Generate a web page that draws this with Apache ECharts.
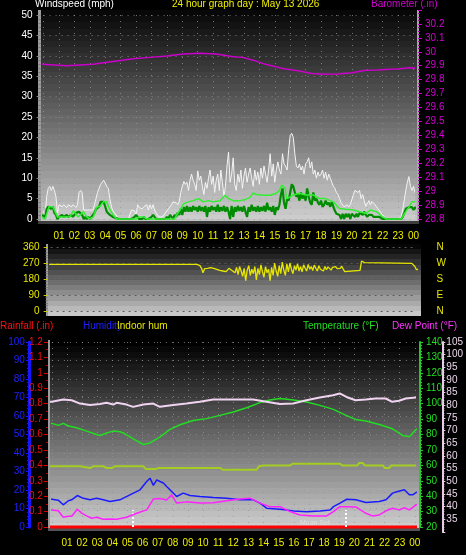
<!DOCTYPE html>
<html><head><meta charset="utf-8">
<script src="https://cdn.jsdelivr.net/npm/echarts@6/dist/echarts.min.js"></script>
<style>html,body{margin:0;padding:0;background:#000;}#c{width:466px;height:555px;}</style>
</head><body><div id="c"></div>
<script>
// ---------- tick labels ----------
const hourLabels = ['01','02','03','04','05','06','07','08','09','10','11','12','13','14','15','16','17','18','19','20','21','22','23','00'];
const dirLabels = {0:'N', 90:'E', 180:'S', 270:'W', 360:'N'};

// ---------- windspeed panel (hours since midnight, mph) ----------
const WIND_T0 = -0.1, WIND_STEP = 0.1;
const gustMph = [
 2.2,2.0,1.0,5.5,7.5,8.0,7.0,8.0,7.0,5.5,1.5,
 3.5,3.5,3.0,3.5,3.5,2.8,3.5,3.5,3.0,3.5,
 3.5,2.8,3.5,6.5,7.0,6.5,2.2,2.2,2.2,2.0,
 2.2,2.2,2.2,3.5,5.0,6.5,7.5,8.5,9.0,9.5,
 9.5,8.0,7.5,5.0,3.0,2.0,1.5,1.0,0.5,0,
 0,0,0,0,0,0,0,2.2,2.2,2.0,
 1.0,3.5,2.8,2.8,2.5,3.0,2.8,3.5,2.2,3.5,
 2.5,3.5,2.2,1.5,1.0,0.5,0.2,0.5,1.0,1.5,
 2.0,2.5,3.0,3.5,4.2,3.8,4.0,3.5,4.3,6.5,
 8.0,9.2,8.5,9.0,7.0,9.5,11.0,9.5,8.5,7.0,
 11.8,9.5,10.5,8.0,6.0,9.0,7.5,10.0,12.0,8.5,
 10.5,6.5,9.5,11.0,7.0,12.0,9.0,5.5,8.0,13.0,
 16.4,9.0,11.0,15.0,8.5,7.0,11.0,9.0,12.0,7.5,
 10.5,12.5,9.0,11.0,12.5,10.0,8.0,12.0,9.5,11.5,
 8.5,12.5,10.0,13.0,11.0,9.0,12.0,16.0,10.5,13.5,
 9.0,12.0,14.0,12.0,11.0,16.0,13.5,13.0,12.0,17.0,
 20.5,21.0,20.0,16.0,13.0,12.5,13.5,12.0,13.0,11.0,
 13.5,14.0,15.0,12.5,14.0,11.0,12.0,10.0,11.5,10.5,
 11.0,12.0,10.0,11.5,9.5,11.0,10.0,9.0,8.0,7.5,
 6.5,6.0,5.0,4.0,3.5,3.0,3.0,3.5,3.0,3.5,
 3.8,6.0,7.0,7.0,6.5,7.0,5.0,6.0,4.5,3.1,
 3.0,4.5,3.5,4.3,4.0,3.5,3.0,2.5,2.0,1.5,
 1.0,0.5,0,0,0,0,0,0,0,0,
 0,0,0.5,2.2,4.7,7.0,9.0,10.4,8.0,7.0,
 8.0,6.5,7.5
];
const windMph = [
 1.0,1.0,0.5,2.5,3.0,3.0,2.5,3.0,1.5,1.0,0,
 0.5,0.5,1.0,0.5,0.5,1.0,0.5,0.5,1.0,0.5,
 1.0,1.5,1.8,1.8,1.8,1.0,0,0.5,0,0.5,
 0,0.5,1.0,1.5,2.4,2.5,3.0,4.2,4.2,4.2,
 3.0,1.8,1.8,1.0,1.0,0.5,0.5,0.2,0,0,
 0,0,0,0,0,0,0,0,0,0.5,
 1.0,0.5,0,0,0,0.5,0,0,0,0,
 0.5,1.0,0.5,0,0,0,0,0,0,0,
 0.5,0,1.0,0.5,0,1.0,0.5,1.5,1.0,2.5,
 1.0,2.9,1.8,3.2,1.8,2.9,1.8,3.2,2.2,2.9,
 1.8,3.2,2.0,2.9,1.8,3.2,0.5,2.9,1.8,3.2,
 2.2,2.9,1.8,3.5,1.8,2.9,2.0,3.2,1.8,2.9,
 1.8,0,3.2,0.5,2.9,1.8,3.2,2.0,2.9,1.8,
 3.2,1.8,0.5,2.9,1.8,3.5,2.0,2.9,1.8,3.2,
 1.8,2.9,2.0,3.2,1.8,4.0,2.2,2.9,1.8,3.2,
 1.0,2.9,2.2,3.5,6.0,7.5,4.0,2.5,5.0,4.5,
 6.5,8.5,8.0,6.5,5.5,6.0,4.5,6.5,5.0,6.0,
 4.5,7.5,5.5,4.0,3.5,6.5,4.5,5.0,4.0,3.5,
 4.5,3.0,3.5,4.5,3.5,4.0,3.0,4.2,3.0,2.0,
 1.3,1.3,1.0,0,1.3,0,1.3,0.5,1.3,0,
 1.3,1.3,0.5,1.3,0.5,1.5,1.5,1.0,1.8,1.0,
 0.5,1.0,1.3,1.0,0.5,0.8,0.5,0.5,0.5,0.3,
 0,0,0,0,0,0,0,0,0,0,
 0,0,0,0.5,1.5,2.5,2.9,2.9,2.5,2.9,
 2.2,2.9,2.5
];
const avgWindMph = [[-0.15,0.5],[0.1,0],[0.35,3],[0.6,3],[0.75,1.8],[0.9,0.5],[1.7,0.5],[1.93,2],[2.25,0.5],[2.58,1.8],[2.8,0.5],[3.0,0],[3.23,0.5],[3.44,2.9],[3.66,3.1],[3.88,4.2],[4.09,4.2],[4.31,2.2],[4.52,1.0],[4.74,0],[6.0,0],[6.2,0.5],[6.5,0.5],[6.7,0],[8.5,0],[8.64,1],[8.85,2.2],[9.07,3.7],[9.39,4.2],[9.72,4.5],[10.04,5],[10.37,4.2],[10.69,4.5],[11.0,4.2],[11.45,4.5],[11.77,5.8],[12.0,5],[12.3,4.5],[12.75,4.5],[13.1,4.8],[13.4,5.3],[13.6,6.4],[13.8,6.0],[14.26,5.8],[14.7,5.8],[15.1,6.3],[15.3,7.0],[15.45,8.3],[15.67,7.5],[15.77,5.0],[16.0,5.4],[16.2,5.9],[16.6,6.3],[17.0,5.9],[17.5,5.9],[17.9,5.0],[18.3,5.0],[18.8,4.2],[19.2,2.6],[19.6,2.4],[20.1,2.2],[20.5,1.8],[20.9,1.4],[21.2,2.2],[21.6,1.8],[22.0,0.5],[22.24,0],[23.2,0],[23.5,1.8],[23.7,2.9],[23.9,4.2],[24.25,4.2]];
const baroIn = [[-0.1,29.91],[0,29.91],[1.5,29.90],[3.2,29.91],[4.74,29.934],[5.8,29.95],[6.9,29.96],[8,29.97],[9.05,29.985],[10.15,29.99],[11.2,29.985],[12.3,29.965],[12.9,29.96],[13.6,29.94],[14.4,29.91],[15.5,29.88],[16.6,29.862],[17.4,29.845],[18.3,29.838],[19.1,29.84],[20,29.85],[20.9,29.868],[21.7,29.87],[22.4,29.875],[23,29.876],[23.7,29.886],[24.2,29.882]];

// ---------- wind direction (degrees) ----------
const dirHead = [[-0.1,262],[9.6,262]];
const DIR_NOISE_T0 = 9.7, DIR_STEP = 0.1;
const dirNoise = [258,255,240,215,238,245,240,246,244,238,240,236,234,230,228,227,225,222,221,230,240,235,228,
 231,215,245,205,250,225,195,240,170,230,255,200,235,210,250,175,240,205,260,220,190,250,215,235,170,245,200,270,225,195,
 255,210,275,230,200,265,220,270,235,210,255,230,265,225,250,220,260,240,225,262,235,250,228,258,240,225,255,235,245,225,
 250,232,248,238,230,245,235,250,238,245,240,252,235,222];
const dirTail = [[19.4,228],[20.3,228],[20.4,281],[20.5,278],[20.6,272],[20.7,268],[23.7,268],[23.8,262],[23.9,250],[24.0,232],[24.1,240],[24.2,238]];

// ---------- lower panel ----------
const rainIn = [[-0.2,0],[24.3,0]];
const sunTimes = [5.36, 19.45];
const humidityPct = [[-0.15,15],[-0.01,15.0],[0.42,14.5],[0.75,12.0],[1.09,14.2],[1.31,14.7],[1.68,17.0],[2.08,15.5],[2.52,14.7],[2.96,15.5],[3.4,14.7],[3.84,13.8],[4.5,14.7],[5.16,17.4],[5.83,20.1],[6.27,24.6],[6.49,26.4],[6.71,22.5],[6.93,25.5],[7.15,24.6],[7.37,23.8],[7.59,21.9],[7.92,19.2],[8.25,16.5],[8.69,18.3],[9.13,17.0],[9.79,16.5],[10.68,15.9],[11.56,15.5],[12.44,14.7],[13.32,14.7],[13.76,12.9],[14.2,10.2],[15.09,9.6],[15.53,9.2],[15.97,8.7],[16.85,8.2],[17.73,8.7],[18.4,9.2],[18.62,11.0],[19.05,12.9],[19.5,15.0],[20.1,14.7],[20.77,13.2],[21.65,13.8],[22.1,14.7],[22.53,18.3],[22.87,19.2],[23.31,20.1],[23.64,17.4],[23.86,17.4],[24.08,18.6],[24.25,19]];
const indoorHumPct = [[-0.15,32.8],[1.86,32.8],[1.97,31.9],[2.52,31.9],[2.74,32.8],[3.4,32.8],[3.62,31.9],[3.95,31.9],[4.17,32.8],[6.05,32.8],[6.2,31.4],[6.9,31.4],[7.05,31.9],[11.12,31.9],[11.3,31.0],[13.54,31.0],[13.7,32.8],[14.0,33.2],[15.75,33.2],[15.9,34.2],[19.05,34.2],[19.2,33.3],[20.2,33.3],[20.33,34.6],[20.55,34.6],[20.7,33.3],[21.9,33.3],[22.0,31.9],[22.3,31.9],[22.45,33.3],[24.25,33.3]];
const temperatureF = [[-0.15,87.5],[-0.01,87.2],[0.42,85.9],[0.75,87.2],[1.09,85.5],[1.64,84.4],[2.3,82.2],[2.96,80.0],[3.18,79.4],[3.62,81],[4.06,82.2],[4.5,81.8],[4.72,81],[5.38,77.2],[6.05,73.5],[6.49,74.5],[7.15,78.5],[7.81,83.3],[8.47,86.3],[9.35,89.1],[10.23,90.3],[11.12,92.4],[12.0,94.6],[12.88,97.4],[13.76,100.7],[14.42,102.4],[15.09,103.3],[15.97,102.4],[16.85,101.1],[17.73,98.9],[18.62,96.3],[19.45,92.4],[20.16,89.5],[20.77,88.7],[21.65,86.5],[22.53,83.7],[23.2,79.4],[23.64,78.5],[24.08,83.3],[24.25,84]];
const dewPointF = [[-0.15,31],[-0.01,31.1],[0.42,30.5],[0.75,26.3],[1.09,27],[1.31,27],[1.68,31.5],[1.97,29],[2.3,27.2],[2.63,25.7],[2.96,26.3],[3.4,25.0],[3.84,25.2],[4.28,25.0],[4.94,26.3],[5.61,28.9],[6.27,31.1],[6.71,38.1],[7.15,38.5],[7.59,37.5],[7.92,40.9],[8.25,35.5],[8.91,36.3],[9.79,35.5],[10.68,35.8],[11.56,37.0],[12.44,38.1],[13.1,38.7],[13.76,35.5],[14.42,33.2],[15.09,33.2],[15.75,30.0],[16.41,27.8],[17.29,27.2],[18.17,27.2],[18.62,30.0],[19.05,33.2],[19.5,33.2],[20.1,33.0],[20.77,28.9],[21.2,27.2],[21.65,27.8],[22.1,30.5],[22.53,32.2],[22.98,31.1],[23.31,32.5],[23.64,31.1],[24.08,34.4],[24.25,34.5]];
const indoorTempF = [[-0.15,81.4],[-0.01,81.4],[0.75,82.3],[1.31,82.0],[1.86,80.7],[2.52,80.1],[3.18,80.5],[3.62,81],[4.06,80.3],[4.28,81],[4.94,80.3],[5.38,79.4],[6.05,80.3],[6.71,80.7],[7.15,79.4],[8.03,80.1],[8.91,80.7],[9.79,81.4],[10.68,82.3],[13.32,82.3],[14.2,81.4],[15.09,80.5],[15.97,80.7],[16.85,82.0],[17.73,83.1],[18.62,84.0],[19.05,84.7],[19.5,83.3],[20.1,82.0],[20.77,82.3],[21.43,82.7],[22.1,82.7],[22.53,81.4],[22.98,81.8],[23.42,82.7],[24.08,83.1],[24.25,83.1]];

// ---------- build ----------
const byStep = (arr, t0, st) => arr.map((v, i) => [+(t0 + i * st).toFixed(2), v]);
const gustData = byStep(gustMph, WIND_T0, WIND_STEP);
const windData = byStep(windMph, WIND_T0, WIND_STEP);
const dirData = dirHead.concat(byStep(dirNoise, DIR_NOISE_T0, DIR_STEP), dirTail);

const FONT = 'Liberation Sans';
function bandFill(n, g0, g1) {
  const stops = [];
  for (let i = 0; i < n; i++) {
    const g = Math.round(g0 + (g1 - g0) * i / (n - 1));
    const c = 'rgb(' + g + ',' + g + ',' + g + ')';
    stops.push({offset: i / n, color: c}, {offset: (i + 1) / n, color: c});
  }
  return new echarts.graphic.LinearGradient(0, 0, 0, 1, stops);
}
const hourFmt = v => (v >= 1 && v <= 24) ? hourLabels[v - 1] : '';
const dots = {show: true, lineStyle: {color: 'rgba(150,150,150,0.75)', width: 1, type: [1, 5]}};
const lbl = (color, margin, extra) => Object.assign({color: color, fontFamily: FONT, fontSize: 10, margin: margin}, extra || {});
const noZero = (show, style) => ({show: show, onZero: false, lineStyle: style || {}});

function hourAxis(grid, showLabels, margin, split) {
  return {type: 'value', gridIndex: grid, min: 0, max: 24, interval: 1,
    axisLine: noZero(false), axisTick: {show: false},
    axisLabel: showLabels ? lbl('#f0f000', margin, {formatter: hourFmt, showMinLabel: false}) : {show: false},
    splitLine: split ? dots : {show: false}};
}
function lineSeries(name, x, y, data, color, width, extra) {
  return Object.assign({name: name, type: 'line', xAxisIndex: x, yAxisIndex: y, data: data,
    showSymbol: false, symbol: 'none', clip: false, animation: false,
    lineStyle: {color: color, width: width}, itemStyle: {color: color}}, extra || {});
}

const option = {
  backgroundColor: '#000',
  animation: false,
  grid: [
    {left: 43.6, top: 15, width: 369.9, height: 204},   // wind
    {left: 43.6, top: 10, width: 369.9, height: 209},   // barometer
    {left: 50.6, top: 247, width: 365.8, height: 64},   // direction
    {left: 51.9, top: 342, width: 362.9, height: 185},  // rain/hum/temp
    {left: 51.9, top: 342, width: 362.9, height: 190}   // indoor temp
  ],
  xAxis: [
    hourAxis(0, true, 12, true),
    hourAxis(1, false, 0, false),
    hourAxis(2, false, 0, false),
    hourAxis(3, true, 11, true),
    hourAxis(4, false, 0, false)
  ],
  yAxis: [
    {type: 'value', gridIndex: 0, min: 0, max: 50, interval: 5, position: 'left', offset: 3,
      axisLine: noZero(false), axisTick: {show: true, length: 4, lineStyle: {color: '#8a8a8a'}},
      minorTick: {show: true, splitNumber: 5, length: 2, lineStyle: {color: '#777'}},
      axisLabel: lbl('#ffffff', 8), splitLine: dots},
    {type: 'value', gridIndex: 1, min: 28.8, max: 30.3, interval: 0.1, position: 'right', offset: 4.5,
      axisLine: noZero(false), axisTick: {show: true, length: 4, lineStyle: {color: '#cc00cc'}},
      minorTick: {show: true, splitNumber: 4, length: 2, lineStyle: {color: '#aa00aa'}},
      axisLabel: lbl('#d400d4', 7, {showMaxLabel: false}), splitLine: {show: false}},
    {type: 'value', gridIndex: 2, min: 0, max: 360, interval: 90, position: 'left', offset: 3,
      axisLine: noZero(false), axisTick: {show: true, length: 4, lineStyle: {color: '#c8c800'}},
      minorTick: {show: true, splitNumber: 6, length: 2, lineStyle: {color: '#777'}},
      axisLabel: lbl('#e6e600', 8),
      splitLine: {show: true, lineStyle: {color: '#5a5a5a', width: 1, type: [2, 4]}}},
    {type: 'value', gridIndex: 2, min: 0, max: 360, interval: 90, position: 'right', offset: 0,
      axisLine: noZero(false), axisTick: {show: false},
      axisLabel: lbl('#e6e600', 20, {formatter: v => dirLabels[v] || ''}), splitLine: {show: false}},
    {type: 'value', gridIndex: 3, min: 0, max: 1.2, interval: 0.1, position: 'left', offset: 4,
      axisLine: noZero(false), axisTick: {show: true, length: 4, lineStyle: {color: '#e00000'}},
      minorTick: {show: true, splitNumber: 2, length: 2, lineStyle: {color: '#c00000'}},
      axisLabel: lbl('#ee1111', 5), splitLine: {show: false}},
    {type: 'value', gridIndex: 3, min: 0, max: 100, interval: 10, position: 'left', offset: 23,
      axisLine: noZero(true, {color: '#1515ff', width: 3}),
      axisTick: {show: true, length: 3, lineStyle: {color: '#1515ff'}},
      minorTick: {show: true, splitNumber: 5, length: 2, lineStyle: {color: '#1515ff'}},
      axisLabel: lbl('#2020ff', 4), splitLine: dots},
    {type: 'value', gridIndex: 3, min: 20, max: 140, interval: 10, position: 'right', offset: 5.2,
      axisLine: noZero(true, {color: '#22cc22', width: 2}),
      axisTick: {show: true, length: 3, lineStyle: {color: '#22cc22'}},
      minorTick: {show: true, splitNumber: 5, length: 2, lineStyle: {color: '#22cc22'}},
      axisLabel: lbl('#22dd22', 6), splitLine: {show: false}},
    {type: 'value', gridIndex: 4, min: 30, max: 105, interval: 5, position: 'right', offset: 27.9,
      axisLine: noZero(true, {color: '#e8cce8', width: 2}),
      axisTick: {show: true, length: 3, lineStyle: {color: '#e8cce8'}},
      minorTick: {show: true, splitNumber: 5, length: 2, lineStyle: {color: '#e8cce8'}},
      axisLabel: lbl('#e8d4e8', 4, {showMinLabel: false}), splitLine: {show: false}}
  ],
  graphic: [
    {type: 'rect', z: -10, silent: true, shape: {x: 41, y: 10, width: 377, height: 211}, style: {fill: bandFill(34, 8, 196)}},
    {type: 'rect', z: -10, silent: true, shape: {x: 48, y: 244, width: 373, height: 72}, style: {fill: bandFill(14, 6, 200)}},
    {type: 'rect', z: -10, silent: true, shape: {x: 49, y: 340, width: 370, height: 189}, style: {fill: bandFill(32, 0, 204)}},
    {type: 'rect', z: -9, silent: true, shape: {x: 38, y: 10, width: 3, height: 213}, style: {fill: '#9c9c9c'}},
    {type: 'rect', z: -9, silent: true, shape: {x: 417, y: 10, width: 2, height: 213}, style: {fill: '#a8a8a8'}},
    {type: 'rect', z: -9, silent: true, shape: {x: 38, y: 221, width: 381, height: 3}, style: {fill: '#3c3c3c'}},
    {type: 'rect', z: -9, silent: true, shape: {x: 46, y: 244, width: 2, height: 72}, style: {fill: '#9c9c9c'}},
    {type: 'rect', z: -9, silent: true, shape: {x: 48, y: 340, width: 2, height: 190}, style: {fill: '#9c9c9c'}},
    {type: 'rect', z: -9, silent: true, shape: {x: 48, y: 528, width: 372, height: 3}, style: {fill: '#555'}},
    {type: 'text', z: 10, left: 35, top: -1, style: {text: 'Windspeed (mph)', fill: '#ffffff', font: '10px ' + FONT}},
    {type: 'text', z: 10, left: 172, top: -1, style: {text: '24 hour graph day : May 13 2026', fill: '#f0f000', font: '10px ' + FONT}},
    {type: 'text', z: 10, left: 371, top: -1, style: {text: 'Barometer (.in)', fill: '#d400d4', font: '10px ' + FONT}},
    {type: 'text', z: 10, left: 0, top: 321, style: {text: 'Rainfall (.in)', fill: '#ff1010', font: '10px ' + FONT}},
    {type: 'text', z: 10, left: 83, top: 321, style: {text: 'Humidity', fill: '#2020ff', font: '10px ' + FONT}},
    {type: 'text', z: 11, left: 117, top: 321, style: {text: 'Indoor hum', fill: '#e6e600', font: '10px ' + FONT}},
    {type: 'text', z: 10, left: 303, top: 321, style: {text: 'Temperature (°F)', fill: '#22dd22', font: '10px ' + FONT}},
    {type: 'text', z: 10, left: 392, top: 321, style: {text: 'Dew Point (°F)', fill: '#ff33ff', font: '10px ' + FONT}},
    {type: 'text', z: 10, left: 300, top: 520, style: {text: 'Moon Set', fill: '#e0e0e0', font: '7px ' + FONT}}
  ],
  series: [
    lineSeries('Gust', 0, 0, gustData, '#f4f4f4', 1, {areaStyle: {color: 'rgba(255,255,255,0.2)'}, z: 3}),
    lineSeries('Wind', 0, 0, windData, '#008c00', 2.2, {z: 4}),
    lineSeries('Average wind', 0, 0, avgWindMph, '#33ee33', 1.5, {z: 5}),
    lineSeries('Barometer', 1, 1, baroIn, '#cc00cc', 1.5, {z: 5}),
    lineSeries('Wind direction', 2, 2, dirData, '#e6e600', 1.3, {z: 5}),
    lineSeries('Rainfall', 3, 4, rainIn, '#ff0000', 3, {z: 4,
      markLine: {silent: true, symbol: 'none', label: {show: false}, animation: false,
        lineStyle: {color: '#ffffff', width: 2, type: [2, 2]},
        data: sunTimes.map(t => [{coord: [t, 0]}, {coord: [t, 0.11]}])}}),
    lineSeries('Indoor hum', 3, 5, indoorHumPct, '#a4cc22', 2, {z: 5}),
    lineSeries('Humidity', 3, 5, humidityPct, '#1a1aff', 1.5, {z: 6}),
    lineSeries('Temperature', 3, 6, temperatureF, '#22dd22', 1.5, {z: 6}),
    lineSeries('Dew Point', 3, 6, dewPointF, '#ff22ff', 1.5, {z: 7}),
    lineSeries('Indoor temp', 4, 7, indoorTempF, '#f0d4f0', 2, {z: 6})
  ]
};
const chart = echarts.init(document.getElementById('c'), null, {renderer: 'canvas'});
chart.setOption(option);
</script>
</body></html>
